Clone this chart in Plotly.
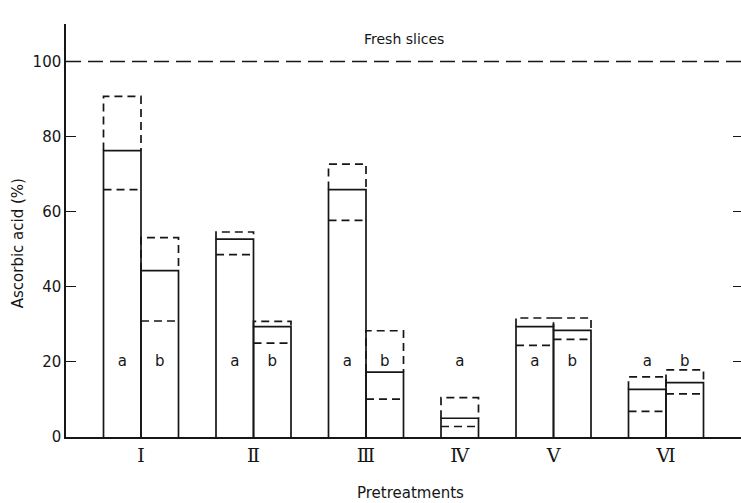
import plotly.graph_objects as go

# ---- data ----
categories = ["I", "II", "III", "IV", "V", "VI"]
tick_labels = ["\u2160", "\u2161", "\u2162", "\u2163", "\u2164", "\u2165"]
a_mean = [76.3, 52.7, 65.9, 5.0, 29.4, 12.7]
a_upper = [90.7, 54.6, 72.7, 10.5, 31.7, 16.0]
a_lower = [65.9, 48.6, 57.7, 2.8, 24.4, 6.8]
b_mean = [44.3, 29.4, 17.3, None, 28.4, 14.5]
b_upper = [53.1, 30.8, 28.3, None, 31.7, 17.9]
b_lower = [30.9, 25.0, 10.1, None, 26.0, 11.5]
fresh_level = 100
label_level = 20

# ---- layout of slots: one-bar gap before each group, bars of width 1 ----
INK = "#161616"
LW = 1.7
solid_x, solid_y, dash_x, dash_y = [], [], [], []
lab_x, lab_y, lab_t = [], [], []
group_centers = []
cursor = 1.0
for i in range(len(categories)):
    bars = [("a", a_mean[i], a_upper[i], a_lower[i])]
    if b_mean[i] is not None:
        bars.append(("b", b_mean[i], b_upper[i], b_lower[i]))
    start = cursor
    for name, m, u, lo in bars:
        l, r = cursor, cursor + 1
        solid_x += [l, l, r, r, None]
        solid_y += [0, m, m, 0, None]
        dash_x += [l, l, r, r, None, l, r, None]
        dash_y += [m, u, u, m, None, lo, lo, None]
        lab_x.append(l + 0.5)
        lab_y.append(label_level)
        lab_t.append(name)
        cursor += 1
    group_centers.append((start + cursor) / 2)
    cursor += 1.0
x_max = cursor

fig = go.Figure()
fig.add_trace(go.Scatter(x=[0, x_max], y=[fresh_level, fresh_level], mode="lines",
                         line=dict(color=INK, width=1.5, dash="15px,7px"),
                         hoverinfo="skip", showlegend=False))
fig.add_trace(go.Scatter(x=dash_x, y=dash_y, mode="lines",
                         line=dict(color=INK, width=LW, dash="8px,5px"),
                         hoverinfo="skip", showlegend=False))
fig.add_trace(go.Scatter(x=solid_x, y=solid_y, mode="lines",
                         line=dict(color=INK, width=LW),
                         hoverinfo="skip", showlegend=False))
fig.add_trace(go.Scatter(x=lab_x, y=lab_y, mode="text", text=lab_t,
                         textfont=dict(family="DejaVu Sans", size=15, color=INK),
                         textposition="middle center",
                         hoverinfo="skip", showlegend=False))
fig.add_trace(go.Scatter(x=[0], y=[0], yaxis="y2", mode="markers",
                         marker=dict(opacity=0), hoverinfo="skip", showlegend=False))

fig.update_layout(
    width=741, height=503,
    margin=dict(l=66, r=0, t=24, b=66),
    paper_bgcolor="white", plot_bgcolor="white",
    font=dict(family="DejaVu Sans", color=INK),
    xaxis=dict(range=[0, x_max], tickvals=group_centers, ticktext=tick_labels,
               showgrid=False, zeroline=False, showline=True, linecolor=INK,
               linewidth=1.5, ticks="", tickfont=dict(size=19, family="DejaVu Serif")),
    yaxis=dict(range=[0, 110], tickvals=[0, 20, 40, 60, 80, 100],
               showgrid=False, zeroline=False, showline=True, linecolor=INK,
               linewidth=1.5, ticks="inside", ticklen=10, tickwidth=1.3,
               tickcolor=INK, tickfont=dict(size=15)),
    yaxis2=dict(range=[0, 110], overlaying="y", side="right",
                tickvals=[20, 40, 60, 80], showticklabels=False, showgrid=False,
                zeroline=False, showline=False, ticks="inside", ticklen=8,
                tickwidth=1.3, tickcolor=INK),
    annotations=[
        dict(text="Fresh slices", xref="paper", yref="y", x=0.5, y=106,
             showarrow=False, font=dict(size=14)),
        dict(text="Ascorbic acid (%)", xref="paper", yref="paper", x=-0.072, y=0.47,
             textangle=-90, showarrow=False, font=dict(size=15),
             xanchor="center", yanchor="middle"),
        dict(text="Pretreatments", xref="paper", yref="paper", x=0.51, y=-0.135,
             showarrow=False, font=dict(size=15), xanchor="center", yanchor="middle"),
    ],
)

fig.write_html("out.html")
